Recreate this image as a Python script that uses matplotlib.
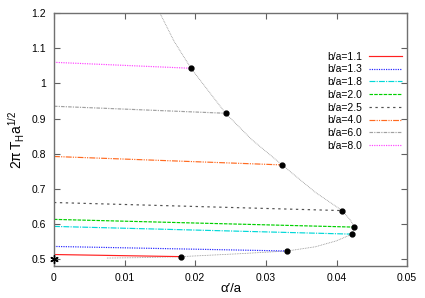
import matplotlib
matplotlib.use("Agg")
import matplotlib.pyplot as plt

plt.rcParams['font.family'] = ['Liberation Sans', 'DejaVu Sans']
plt.rcParams['mathtext.fontset'] = 'custom'
plt.rcParams['mathtext.rm'] = 'Liberation Sans'
plt.rcParams['mathtext.it'] = 'Liberation Sans'

# b/a series: start value at alpha'=0, end point (dot)
labels = ['b/a=1.1', 'b/a=1.3', 'b/a=1.8', 'b/a=2.0', 'b/a=2.5', 'b/a=4.0', 'b/a=6.0', 'b/a=8.0']
y_start = [0.513, 0.536, 0.593, 0.613, 0.661, 0.792, 0.935, 1.060]
x_end = [0.0180, 0.0330, 0.0422, 0.0425, 0.0408, 0.0323, 0.0243, 0.0194]
y_end = [0.507, 0.523, 0.571, 0.591, 0.638, 0.768, 0.915, 1.043]

# envelope curve through the end points
curve_x = [0.0075, 0.012, 0.018, 0.021, 0.026, 0.033, 0.037, 0.040, 0.0422, 0.0425,
           0.0420, 0.0408, 0.037, 0.0323, 0.028, 0.0243, 0.0194, 0.017, 0.0150]
curve_y = [0.503, 0.504, 0.507, 0.510, 0.515, 0.523, 0.535, 0.552, 0.571, 0.591,
           0.610, 0.638, 0.690, 0.768, 0.840, 0.915, 1.043, 1.120, 1.200]

colors = ['#ff2020', '#2020ff', '#00d8d8', '#00d000', '#505050', '#ff6a20', '#a0a0a0', '#ff40ff']
styles = ['-', (0, (1, 1)), (0, (5, 1, 1, 1)), (0, (3, 1)), (0, (2, 3)),
          (0, (5, 1, 1, 1, 1, 1)), (0, (3, 1, 1, 1)), (0, (1, 1))]

fig = plt.figure(figsize=(4.25, 2.98), dpi=100)
ax = fig.add_axes([0.127, 0.107, 0.831, 0.849])

ax.plot(curve_x, curve_y, color='#909090', lw=0.6, ls=(0, (1, 1)), zorder=1)

for i in range(len(labels)):
    ax.plot([0, x_end[i]], [y_start[i], y_end[i]], color=colors[i], ls=styles[i],
            lw=0.85, label=labels[i], zorder=2)

ax.plot(x_end, y_end, 'o', color='black', ms=3.5, zorder=3)
ax.plot([0], [0.5], marker=(6, 2, 0), color='black', ms=6, mew=1, clip_on=False, zorder=4)

ax.set_xlim(0, 0.05)
ax.set_ylim(0.48, 1.2)
ax.set_xticks([0, 0.01, 0.02, 0.03, 0.04, 0.05])
ax.set_xticklabels(['0', '0.01', '0.02', '0.03', '0.04', '0.05'])
ax.set_yticks([0.5, 0.6, 0.7, 0.8, 0.9, 1.0, 1.1, 1.2])
ax.set_yticklabels(['0.5', '0.6', '0.7', '0.8', '0.9', '1', '1.1', '1.2'])
ax.tick_params(direction='in', top=True, right=True, labelsize=7.5, length=4,
               color='#606060', pad=6)
ax.tick_params(axis='x', pad=5)
for s in ax.spines.values():
    s.set_color('#707070')
    s.set_linewidth(1.0)

ax.set_xlabel("α′/a", fontsize=9.5, labelpad=0)
ax.set_ylabel(r"$2\pi\,$T$_{\rm H}$a$^{1/2}$", fontsize=10, labelpad=3)

ax.legend(loc='upper right', bbox_to_anchor=(1.0, 0.868), frameon=False, markerfirst=False,
          fontsize=7.5, handlelength=3.2, handletextpad=0.6, labelspacing=0.26,
          borderaxespad=0.1)

fig.savefig('out.png', dpi=100)
